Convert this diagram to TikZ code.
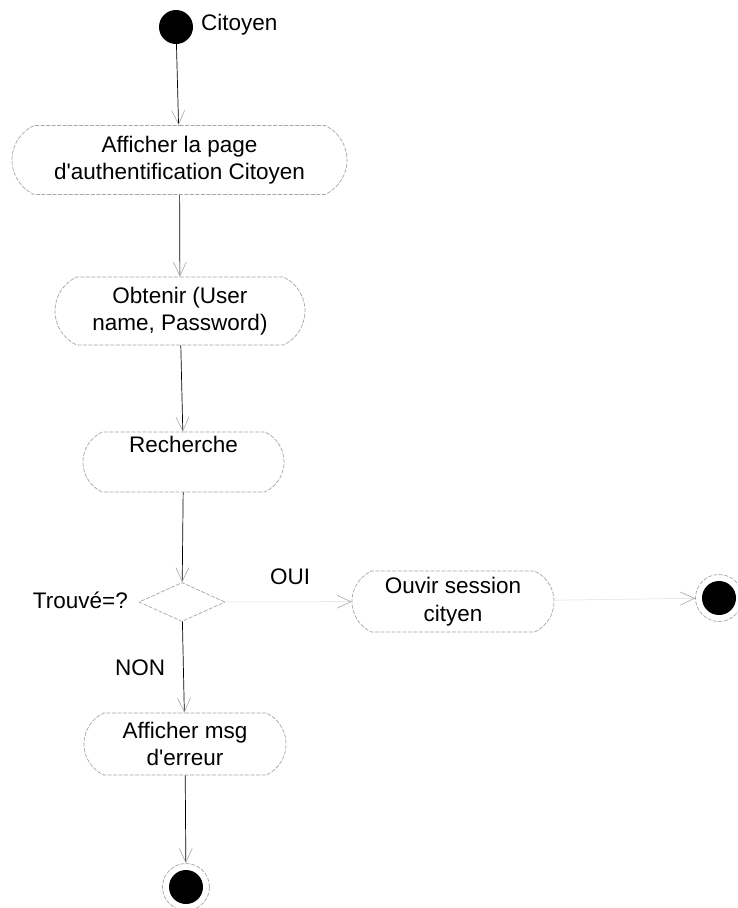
\documentclass[tikz,border=0pt]{standalone}
\usepackage{fontspec}
\setmainfont{Liberation Sans}
\usetikzlibrary{arrows.meta,shapes.misc,shapes.geometric}
\newcommand\diagfs{\fontsize{22.5}{27.5}\selectfont}
\begin{document}
\begin{tikzpicture}[x=1pt,y=-1pt,
  act/.style={rounded rectangle, rounded rectangle arc length=130, draw=gray!70,
    line width=0.7pt, dash pattern=on 4pt off 1.5pt, align=center, inner sep=0pt, font=\diagfs},
  lbl/.style={inner sep=0pt, font=\diagfs},
  flow/.style={-{Straight Barb[length=14pt,width=13pt,color=gray!70,line width=0.6pt]}, line width=0.7pt, black},
  faint/.style={-{Straight Barb[length=14pt,width=13pt,color=gray!70,line width=0.6pt]}, line width=0.5pt, gray!25},
  dec/.style={diamond, draw=gray!70, line width=0.7pt, dash pattern=on 4pt off 1.5pt,
    minimum width=86pt, minimum height=39pt, inner sep=0pt},
  initst/.style={circle, fill=black, minimum size=34pt, inner sep=0pt},
  ring/.style={circle, draw=gray!70, line width=0.7pt, dash pattern=on 4pt off 1.5pt, minimum size=47pt, inner sep=0pt}
]
\useasboundingbox (0,0) rectangle (737,908);
\fill[white] (0,0) rectangle (737,908);

% start
\node[initst] (start) at (176,27) {};
\node[lbl, anchor=west] (citoyen) at (201,25) {Citoyen};

% activities
\node[act, minimum width=335pt, minimum height=69pt] (b1) at (179.5,160) {Afficher la page\\d\textquotesingle authentification Citoyen};
\node[act, minimum width=250pt, minimum height=68pt] (b2) at (180,311) {Obtenir (User\\name, Password)};
\node[act, minimum width=201pt, minimum height=60pt] (b3) at (183.5,462) {Recherche\\\strut};
\node[dec] (d) at (182,602) {};
\node[lbl, anchor=east] (trouve) at (128,600) {Trouvé=?};
\node[lbl, anchor=west] (oui) at (270,577) {OUI};
\node[lbl, anchor=west] (non) at (115,668) {NON};
\node[act, minimum width=202pt, minimum height=61pt] (b4) at (453,601.5) {Ouvir session\\cityen};
\node[act, minimum width=202pt, minimum height=62pt] (b5) at (185,744) {Afficher msg\\d\textquotesingle erreur};

% final states
\node[ring] (endR) at (719,598) {};
\node[initst] (endRin) at (719,598) {};
\node[ring] (endB) at (186,887) {};
\node[initst] (endBin) at (186,887) {};

% connectors
\draw[flow] (start) -- (b1);
\draw[flow] (b1) -- (b2);
\draw[flow] (b2) -- (b3);
\draw[flow] (b3) -- (d);
\draw[flow] (d) -- (b5);
\draw[flow] (b5) -- (endB);
\draw[faint] (d) -- (b4);
\draw[faint] (b4) -- (endR);
\end{tikzpicture}
\end{document}
